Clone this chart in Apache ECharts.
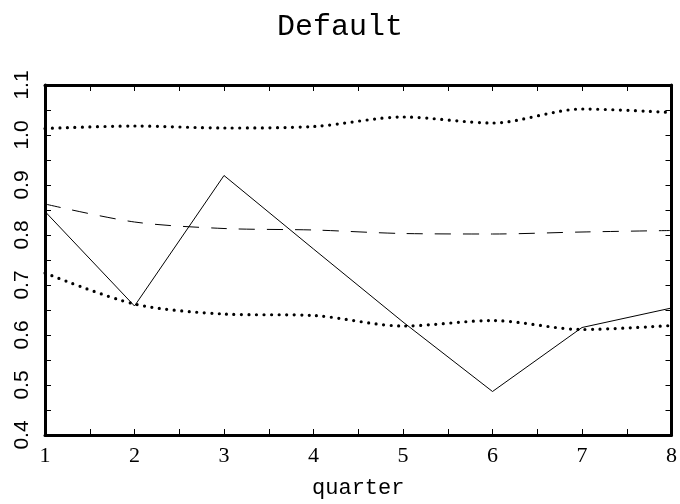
<!DOCTYPE html>
<html>
<head>
<meta charset="utf-8">
<script src="https://cdn.jsdelivr.net/npm/echarts@6/dist/echarts.min.js"></script>
<style>
  html, body { margin: 0; padding: 0; background: #fff; }
  #chart { width: 680px; height: 504px; }
</style>
</head>
<body>
<div id="chart"></div>
<script>
  var quarters = [1, 2, 3, 4, 5, 6, 7, 8];
  var actual = [0.847, 0.658, 0.919, 0.772, 0.626, 0.487, 0.615, 0.654];
  var fitted = [0.862, 0.826, 0.813, 0.810, 0.803, 0.802, 0.806, 0.809];
  var upper = [1.013, 1.018, 1.014, 1.017, 1.036, 1.024, 1.052, 1.045];
  var lower = [0.724, 0.662, 0.642, 0.639, 0.618, 0.629, 0.611, 0.619];

  function pairs(vals) {
    var out = [];
    for (var i = 0; i < quarters.length; i++) {
      out.push([quarters[i], vals[i]]);
    }
    return out;
  }

  var chart = echarts.init(document.getElementById('chart'));
  var frame = { show: true, onZero: false, lineStyle: { color: '#000', width: 3 } };
  var tick = { show: true, inside: true, length: 6, lineStyle: { color: '#000', width: 1 } };

  chart.setOption({
    animation: false,
    backgroundColor: '#fff',
    title: {
      text: 'Default',
      left: 'center',
      top: 7,
      textStyle: { fontFamily: 'Liberation Mono', fontWeight: 'normal', fontSize: 30, color: '#000' }
    },
    grid: { left: 45, right: 7, top: 85, bottom: 67 },
    xAxis: [
      {
        type: 'value', min: 1, max: 8, interval: 0.5,
        name: 'quarter', nameLocation: 'middle', nameGap: 42,
        nameTextStyle: { fontFamily: 'Liberation Mono', fontSize: 22, color: '#000' },
        axisLine: frame, axisTick: tick, splitLine: { show: false },
        axisLabel: {
          margin: 10, color: '#000', fontFamily: 'Liberation Serif', fontSize: 22,
          formatter: function (v) { return v % 1 === 0 ? String(v) : ''; }
        }
      },
      {
        type: 'value', position: 'top', min: 1, max: 8, interval: 0.5,
        axisLine: frame, axisTick: tick, splitLine: { show: false }, axisLabel: { show: false }
      }
    ],
    yAxis: [
      {
        type: 'value', min: 0.4, max: 1.1, interval: 0.05,
        axisLine: frame, axisTick: tick, splitLine: { show: false },
        axisLabel: {
          rotate: 90, margin: 12, color: '#000', fontFamily: 'Liberation Sans', fontSize: 21,
          formatter: function (v) {
            return Math.round(v * 100) % 10 === 0 ? v.toFixed(1) : '';
          }
        }
      },
      {
        type: 'value', position: 'right', min: 0.4, max: 1.1, interval: 0.05,
        axisLine: frame, axisTick: tick, splitLine: { show: false }, axisLabel: { show: false }
      }
    ],
    series: [
      {
        type: 'line', data: pairs(actual), showSymbol: false, symbol: 'none',
        lineStyle: { color: '#000', width: 1 }
      },
      {
        type: 'line', data: pairs(fitted), showSymbol: false, symbol: 'none', smooth: 0.3,
        lineStyle: { color: '#000', width: 1, type: [16, 12] }
      },
      {
        type: 'line', data: pairs(upper), showSymbol: false, symbol: 'none', smooth: 0.3,
        lineStyle: { color: '#000', width: 3.2, type: [0, 7.5], cap: 'round' }
      },
      {
        type: 'line', data: pairs(lower), showSymbol: false, symbol: 'none', smooth: 0.3,
        lineStyle: { color: '#000', width: 3.2, type: [0, 7.5], cap: 'round' }
      }
    ]
  });
</script>
</body>
</html>
